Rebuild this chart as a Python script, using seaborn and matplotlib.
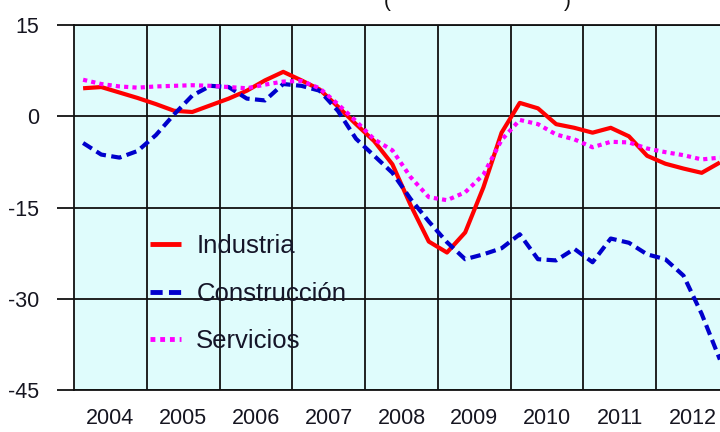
import numpy as np
import pandas as pd
import matplotlib
matplotlib.use("Agg")
import matplotlib.pyplot as plt
import seaborn as sns

# ---- data (quarterly, year-on-year %) ----
years = [2004, 2005, 2006, 2007, 2008, 2009, 2010, 2011, 2012]
quarters_per_year = [1, 2, 3, 4]
industria = [4.6, 4.8, 3.9, 3.0, 2.0, 0.9, 0.7, 1.8, 2.9, 4.2, 5.9, 7.3,
             5.9, 4.4, 1.6, -1.3, -4.1, -7.9, -14.6, -20.6, -22.4, -19.1, -11.7, -2.7,
             2.2, 1.3, -1.3, -1.9, -2.7, -1.9, -3.3, -6.5, -7.8, -8.6, -9.3, -7.6]
construccion = [-4.4, -6.3, -6.8, -5.7, -3.1, 0.3, 3.4, 5.0, 4.8, 2.9, 2.6, 5.3,
                5.0, 4.2, 0.9, -3.7, -6.5, -9.3, -13.6, -17.3, -20.7, -23.5, -22.7, -21.7,
                -19.4, -23.5, -23.7, -21.8, -24.0, -20.1, -20.8, -22.7, -23.5, -26.2, -32.5, -40.0]
servicios = [6.0, 5.3, 4.9, 4.7, 4.9, 5.0, 5.1, 5.0, 4.8, 4.6, 5.2, 5.7,
             5.8, 4.6, 2.0, -0.8, -3.8, -5.6, -10.0, -13.3, -13.8, -12.5, -9.6, -3.9,
             -0.6, -1.3, -3.0, -3.8, -5.1, -4.2, -4.3, -5.3, -5.9, -6.4, -7.1, -6.8]
series_names = ["Industria", "Construcción", "Servicios"]
y_ticks = [15, 0, -15, -30, -45]
year_labels = [str(y) for y in years]

# time position of each quarter (mid-quarter)
t = [y + (q - 0.5) / 4 for y in years for q in quarters_per_year]
df = pd.DataFrame({"t": t, "Industria": industria,
                   "Construcción": construccion, "Servicios": servicios})

sns.set_theme(style="white")
plt.rcParams["font.family"] = ["Liberation Sans", "DejaVu Sans"]

fig = plt.figure(figsize=(7.2, 4.32), dpi=100)
ax = fig.add_axes([74 / 720, 42 / 432, 655 / 720, 365 / 432])
ax.set_facecolor("#DFFCFC")

lw = 3.0
styles = {
    "Industria": dict(color="#FF0000", linestyle="-"),
    "Construcción": dict(color="#0000CC", dashes=(2.5, 1.3)),
    "Servicios": dict(color="#FF00FF", dashes=(1.0, 1.0)),
}
for name in series_names:
    st = styles[name]
    line_kw = dict(linewidth=lw, solid_capstyle="butt", dash_capstyle="butt")
    if "dashes" in st:
        sns.lineplot(data=df, x="t", y=name, ax=ax, color=st["color"],
                     label=name, **line_kw)
        ax.lines[-1].set_dashes(st["dashes"])
    else:
        sns.lineplot(data=df, x="t", y=name, ax=ax, color=st["color"],
                     linestyle=st["linestyle"], label=name, **line_kw)

ax.set_xlim(2004, 2013)
ax.set_ylim(-45, 15)
ax.set_xlabel("")
ax.set_ylabel("")

# grid: vertical lines at year boundaries, horizontal at y ticks
ax.set_xticks(years[1:] + [2013])
ax.set_xticklabels([])
ax.set_xticks([y + 0.5 for y in years], minor=True)
ax.set_xticklabels(year_labels, minor=True)
ax.tick_params(axis="x", which="both", length=0)
ax.tick_params(axis="x", which="minor", labelsize=15.5, pad=13, labelcolor="#151520")
ax.set_yticks(y_ticks)
ax.set_yticklabels([str(v) for v in y_ticks])
ax.tick_params(axis="y", direction="out", length=12, width=1.3, color="#111111",
               labelsize=15.5, pad=13, labelcolor="#151520", left=True)
ax.grid(True, which="major", color="#111111", linewidth=1.3)
for s in ["top", "bottom", "left", "right"]:
    ax.spines[s].set_visible(True)
    ax.spines[s].set_color("#111111")
    ax.spines[s].set_linewidth(1.3)
ax.set_axisbelow(False)
for ln in ax.lines:
    ln.set_zorder(3)

leg = ax.legend(loc="upper left", bbox_to_anchor=(150 / 720, 1 - 234 / 432),
                bbox_transform=fig.transFigure, frameon=False, fontsize=18.5,
                handlelength=1.2, handletextpad=0.6, labelspacing=0.92,
                borderpad=0, borderaxespad=0)
for txt in leg.get_texts():
    txt.set_color("#151528")
for h in leg.get_lines():
    h.set_linewidth(3.5)

# cut-off title (only the bottom of the parentheses is visible)
fig.text(387 / 720, 1 - 7 / 432, "(", fontsize=15, va="baseline", ha="center", color="#111111")
fig.text(567 / 720, 1 - 7 / 432, ")", fontsize=15, va="baseline", ha="center", color="#111111")

fig.savefig("out.png", dpi=100)
